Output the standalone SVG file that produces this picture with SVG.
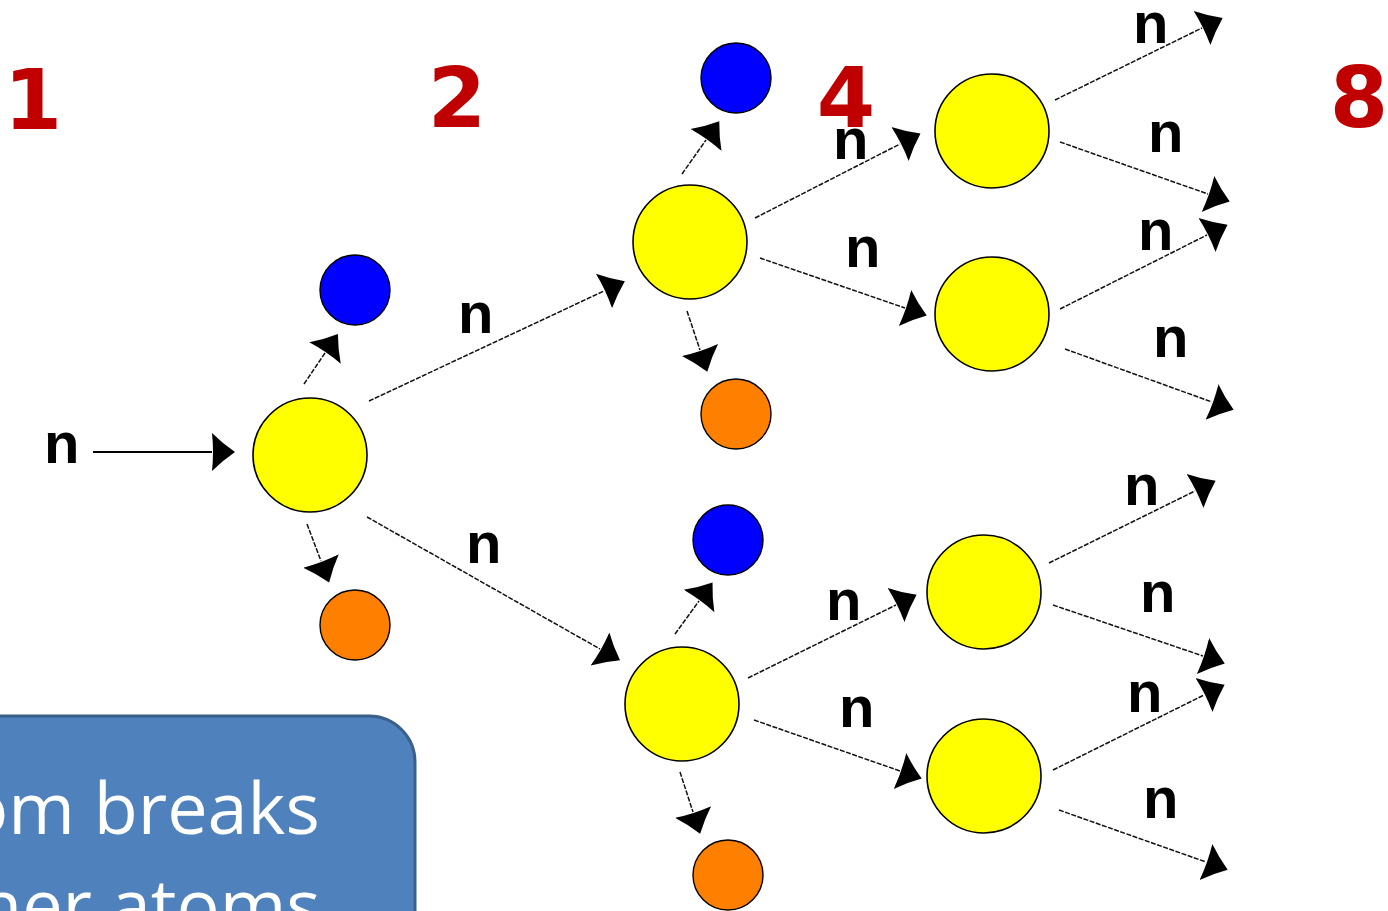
<svg xmlns="http://www.w3.org/2000/svg" width="1388" height="911" viewBox="0 0 1388 911">
<defs>
<style>
.y{fill:#FFFF00;stroke:#000;stroke-width:1.6}
.b{fill:#0000FF;stroke:#000;stroke-width:1.4}
.o{fill:#FF8000;stroke:#000;stroke-width:1.4}
.c{stroke:#111;stroke-width:1.5;stroke-dasharray:5 1.5;fill:none;marker-end:url(#ah)}
.cs{stroke:#000;stroke-width:2;fill:none;marker-end:url(#ah)}
.n{font-family:"Liberation Sans",Arial,sans-serif;font-weight:bold;font-size:58px;fill:#000}
.num{font-family:"DejaVu Sans",sans-serif;font-weight:bold;font-size:84px;fill:#C00000;text-anchor:middle}
.bt{font-family:"Open Sans",sans-serif;font-size:72px;fill:#FFFFFF}
</style>
<marker id="ah" markerUnits="userSpaceOnUse" viewBox="0 -21 25 42" refX="0" refY="0" markerWidth="25" markerHeight="42" orient="auto">
<path d="M0,-19 Q10,-9 23,0 Q10,9 0,19 Q2,0 0,-19 Z" fill="#000"/>
</marker>
</defs>
<rect width="1388" height="911" fill="#FFFFFF"/>

<g id="numbers">
<text class="num" x="33" y="129">1</text>
<text class="num" x="457" y="127">2</text>
<text class="num" x="846" y="127">4</text>
<text class="num" x="1359" y="127">8</text>
</g>

<g id="connectors">
<line class="cs" x1="93" y1="452" x2="212" y2="452"/>
<line class="c" x1="304" y1="384" x2="325" y2="353"/>
<line class="c" x1="307" y1="524" x2="321" y2="561"/>
<line class="c" x1="369" y1="401" x2="604" y2="291"/>
<line class="c" x1="367" y1="517" x2="600" y2="649"/>
<line class="c" x1="682" y1="174" x2="706" y2="140"/>
<line class="c" x1="687" y1="311" x2="700" y2="350"/>
<line class="c" x1="755" y1="218" x2="900" y2="144"/>
<line class="c" x1="760" y1="258" x2="905" y2="308"/>
<line class="c" x1="1055" y1="100" x2="1202" y2="28"/>
<line class="c" x1="1060" y1="142" x2="1208" y2="194"/>
<line class="c" x1="1060" y1="309" x2="1207" y2="235"/>
<line class="c" x1="1065" y1="349" x2="1212" y2="402"/>
<line class="c" x1="675" y1="634" x2="699" y2="601"/>
<line class="c" x1="680" y1="772" x2="693" y2="812"/>
<line class="c" x1="748" y1="678" x2="896" y2="605"/>
<line class="c" x1="754" y1="720" x2="900" y2="771"/>
<line class="c" x1="1049" y1="563" x2="1195" y2="491"/>
<line class="c" x1="1053" y1="605" x2="1203" y2="656"/>
<line class="c" x1="1053" y1="770" x2="1204" y2="695"/>
<line class="c" x1="1059" y1="810" x2="1206" y2="862"/>
</g>

<g id="labels">
<text class="n" x="44" y="463">n</text>
<text class="n" x="458" y="333">n</text>
<text class="n" x="466" y="563">n</text>
<text class="n" x="833" y="159">n</text>
<text class="n" x="845" y="267">n</text>
<text class="n" x="1133" y="43">n</text>
<text class="n" x="1148" y="152">n</text>
<text class="n" x="1138" y="250">n</text>
<text class="n" x="1153" y="357">n</text>
<text class="n" x="826" y="620">n</text>
<text class="n" x="839" y="727">n</text>
<text class="n" x="1124" y="505">n</text>
<text class="n" x="1140" y="612">n</text>
<text class="n" x="1127" y="712">n</text>
<text class="n" x="1143" y="818">n</text>
</g>

<g id="nucleus-1"><circle class="y" cx="310" cy="455" r="57"/></g>
<g id="product-1a"><circle class="b" cx="355" cy="290" r="35"/></g>
<g id="product-1b"><circle class="o" cx="355" cy="625" r="35"/></g>

<g id="nucleus-2a"><circle class="y" cx="690" cy="242" r="57"/></g>
<g id="product-2a-top"><circle class="b" cx="736" cy="78" r="35"/></g>
<g id="product-2a-bottom"><circle class="o" cx="736" cy="414" r="35"/></g>

<g id="nucleus-2b"><circle class="y" cx="682" cy="704" r="57"/></g>
<g id="product-2b-top"><circle class="b" cx="728" cy="540" r="35"/></g>
<g id="product-2b-bottom"><circle class="o" cx="728" cy="875" r="35"/></g>

<g id="nucleus-4a"><circle class="y" cx="992" cy="131" r="57"/></g>
<g id="nucleus-4b"><circle class="y" cx="992" cy="314" r="57"/></g>
<g id="nucleus-4c"><circle class="y" cx="984" cy="592" r="57"/></g>
<g id="nucleus-4d"><circle class="y" cx="984" cy="776" r="57"/></g>

<g id="callout">
<rect x="-60" y="716" width="475" height="320" rx="46" ry="46" fill="#4F81BD" stroke="#3A5F8B" stroke-width="3"/>
<text class="bt" x="-35" y="834">om breaks</text>
<text class="bt" x="-22" y="931">her atoms</text>
</g>
</svg>
